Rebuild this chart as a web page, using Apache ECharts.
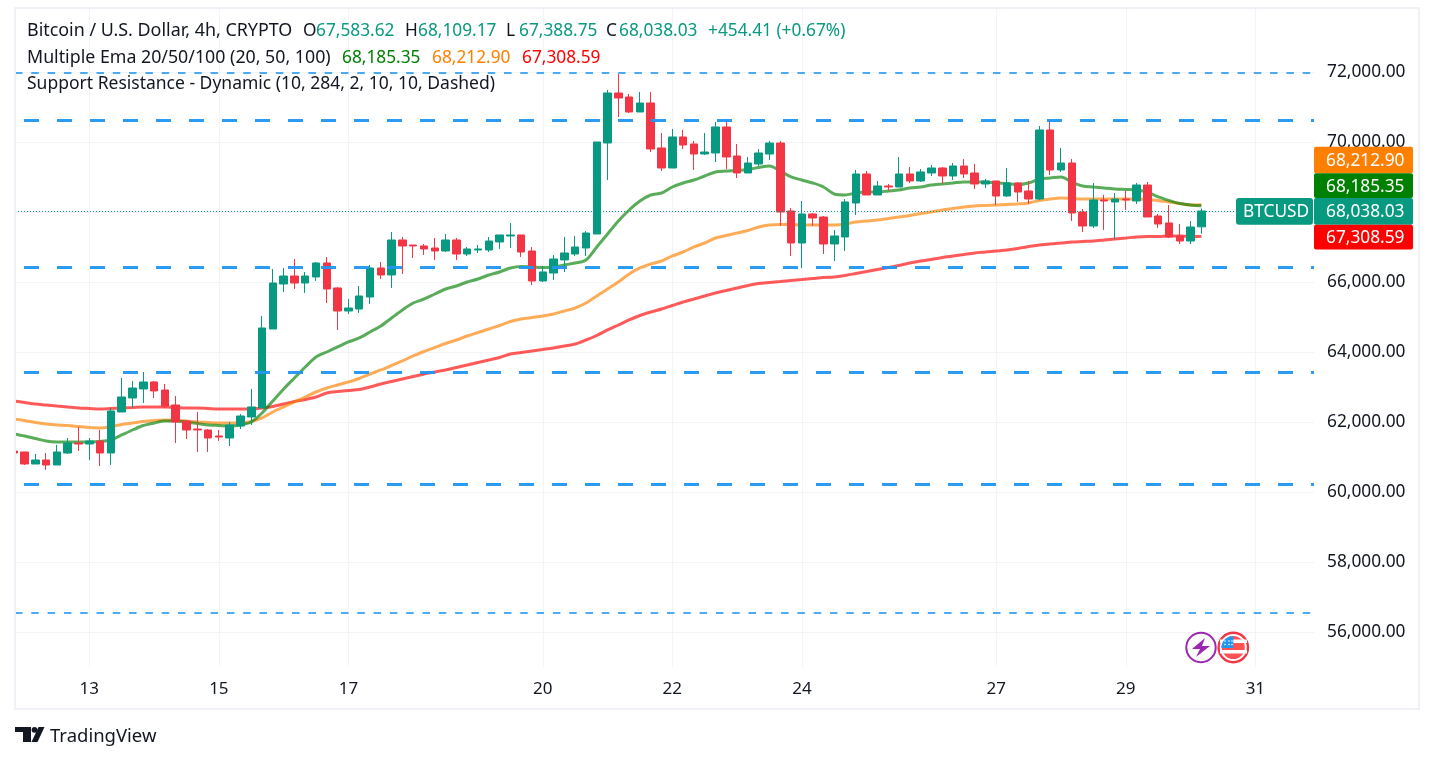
<!DOCTYPE html>
<html>
<head>
<meta charset="utf-8">
<title>BTCUSD 4h</title>
<script src="https://cdn.jsdelivr.net/npm/echarts@6/dist/echarts.min.js"></script>
<style>
  html, body { margin: 0; padding: 0; background: #fff; }
  #main { width: 1434px; height: 762px; }
</style>
</head>
<body>
<div id="main"></div>
<script>
// candles, one per 4h bar, oldest first
var opens = [61180,61152,60809,60923,60780,61123,61409,61380,61466,61123,62295,62695,62952,63152,62923,62495,62038,61809,61780,61609,61552,61895,62152,62409,64666,65952,66180,65980,66152,66552,65838,65180,65238,65580,66409,66209,67209,67066,67038,66980,66895,67209,66809,66923,66923,67152,67323,67352,66895,66038,66266,66638,66809,66980,67380,69980,71409,71295,70866,71123,69838,69266,70152,69952,69666,69695,70438,69609,69123,69380,69666,69980,68038,67123,67952,67866,67095,67295,68266,69095,68495,68752,68723,69095,68895,69123,69266,69038,69323,69123,68809,68895,68466,68838,68609,68380,70352,69209,69409,68009,67609,68352,68295,68380,68323,68780,67895,67695,67323,67180,67583.62];
var closes = [61123,60809,60923,60780,61152,61409,61380,61466,61123,62323,62723,62980,63152,62895,62466,62009,61780,61780,61552,61580,61923,62180,62438,64695,65980,66180,65980,66180,66552,65809,65180,65266,65609,66409,66209,67209,67038,67038,66952,66895,67209,66809,66952,66952,67180,67352,67352,66866,66038,66295,66666,66838,67009,67409,70009,71409,71266,70866,71123,69809,69266,70152,69923,69666,69723,70438,69580,69123,69409,69695,69980,68009,67123,67952,67838,67095,67323,68295,69095,68495,68752,68723,69095,68895,69152,69266,69038,69323,69095,68809,68895,68466,68838,68580,68380,70352,69209,69409,67980,67609,68352,68323,68380,68352,68780,67866,67666,67295,67180,67580,68038.03];
var lows = [61100,60780,60809,60638,60780,61095,61180,60923,60752,60780,62295,62409,62552,62695,62409,61409,61523,61152,61152,61466,61323,61809,61923,62409,64666,65723,65809,65695,66038,65409,64638,65095,65123,65380,66095,65838,66238,66695,66780,66638,66866,66638,66752,66838,66866,66952,66980,66723,65923,66009,66066,66295,66752,66752,67380,68923,70723,70838,70866,69723,69180,69266,69809,69209,69638,69437,69238,68980,69123,69323,69495,67609,66752,66409,67609,66809,66609,66895,67923,68495,68495,68609,68723,68838,68866,69038,68809,68923,68980,68666,68695,68209,68438,68295,68238,68352,69066,69152,67752,67438,67552,67495,67238,68066,68238,67866,67552,67266,67095,67095,67388.75];
var highs = [61200,61152,61095,61123,61352,61552,61866,61552,61780,62409,63266,63180,63438,63180,63095,62752,62038,62295,61809,61780,62009,62238,62952,65037,66380,66409,66666,66295,66580,66723,65866,65523,65895,66495,66580,67438,67295,67066,67095,67266,67380,67266,67009,67066,67295,67352,67695,67352,67009,66466,66780,67295,67323,67466,70009,71495,71952,71380,71438,71438,70266,70380,70352,70038,70266,70580,70638,69952,69580,69809,70038,70038,68123,68323,67980,67895,67495,68380,69209,69180,68895,68809,69580,69295,69238,69352,69295,69409,69523,69380,68952,68895,69266,68866,68895,70466,70638,69838,69523,68095,68838,68495,68552,68609,68838,68866,67952,68209,67666,67752,68109.17];

// moving averages, same bars
var ema20 = [61666,61609,61538,61466,61438,61438,61438,61438,61452,61495,61638,61780,61909,61980,62038,62038,62009,61966,61923,61909,61895,61923,62009,62266,62609,62952,63266,63580,63866,64009,64152,64295,64409,64580,64752,64980,65209,65409,65523,65666,65809,65895,66009,66095,66209,66295,66409,66452,66438,66423,66438,66495,66552,66638,67009,67380,67752,68066,68323,68495,68552,68723,68838,68923,69038,69152,69180,69195,69223,69280,69323,69180,69009,68923,68838,68723,68523,68495,68552,68580,68580,68609,68638,68695,68723,68780,68809,68838,68866,68866,68866,68838,68823,68795,68838,68952,68980,69009,68866,68752,68723,68695,68666,68652,68638,68580,68438,68338,68252,68209,68185.35];
var ema50 = [62095,62052,61995,61952,61923,61909,61880,61852,61838,61880,61938,61980,62023,62052,62066,62052,62038,62009,61995,61980,61980,61980,62023,62123,62295,62438,62580,62723,62866,62980,63066,63152,63252,63380,63495,63623,63752,63895,64023,64138,64252,64352,64466,64566,64666,64766,64880,64952,64995,65037,65095,65180,65266,65409,65609,65809,66009,66238,66409,66523,66609,66752,66866,67009,67123,67266,67338,67409,67480,67580,67638,67652,67652,67638,67638,67638,67638,67666,67723,67752,67780,67823,67866,67909,67966,68009,68066,68109,68152,68180,68195,68209,68223,68238,68266,68338,68380,68409,68395,68380,68380,68380,68380,68380,68380,68366,68338,68295,68252,68209,68212.90];
var ema100 = [62609,62566,62523,62495,62466,62438,62409,62395,62380,62395,62409,62423,62438,62438,62438,62423,62409,62409,62395,62380,62380,62380,62380,62409,62452,62523,62595,62652,62723,62838,62880,62909,62938,63009,63095,63166,63238,63309,63380,63438,63495,63566,63638,63709,63780,63852,63952,63995,64038,64080,64123,64180,64238,64352,64480,64638,64780,64923,65052,65152,65238,65338,65438,65523,65609,65695,65766,65838,65909,65966,65995,66023,66052,66080,66109,66138,66152,66195,66252,66309,66366,66423,66480,66552,66609,66652,66709,66752,66795,66838,66866,66895,66923,66966,67023,67066,67095,67123,67152,67166,67180,67209,67238,67266,67295,67309,67309,67323,67323,67309,67308.59];

// support / resistance levels
var heavyLevels = [70637, 66428, 63438, 60228];
var lightLevels = [71975, 56562];
var lastClose = 68038.03;

// axis ticks
var priceTicks = [56000,58000,60000,62000,64000,66000,68000,70000,72000];
var dayTicks = [13,15,17,20,22,24,27,29,31];
var firstBarDay = 13 - 7 / 6; // bars are 4h apart, first one is 7 bars before the 13th

var green = '#089981', red = '#F23645', ink = '#131722';
var font = '"Noto Sans", sans-serif';
var gridColor = '#f3f4f8';

function money(v) {
    return v.toLocaleString('en-US', { minimumFractionDigits: 2, maximumFractionDigits: 2 });
}

var barDays = opens.map(function (o, i) { return firstBarDay + i / 6; });
var candles = opens.map(function (o, i) { return [barDays[i], o, closes[i], lows[i], highs[i]]; });
function lineData(arr) {
    return arr.map(function (v, i) { return [barDays[i], v]; });
}
function emaSeries(name, arr, color) {
    return {
        name: name, type: 'line', data: lineData(arr), showSymbol: false, symbol: 'none', smooth: 0.3,
        silent: true, z: 3, lineStyle: { width: 3, color: color }, animation: false
    };
}
function levelLines(levels, style) {
    return {
        type: 'line', data: [], z: 2, silent: true, animation: false,
        markLine: {
            silent: true, symbol: 'none', label: { show: false }, animation: false,
            lineStyle: style,
            data: levels.map(function (v) { return { yAxis: v }; })
        }
    };
}

// legend text, every piece at its own x
function txt(x, y, s, color, size) {
    return {
        type: 'text', x: x, y: y + 1, z: 20, silent: true,
        style: { text: s, fill: color || ink, font: (size || 17.3) + 'px ' + font, textVerticalAlign: 'middle' }
    };
}
var header = [
    txt(27, 30, 'Bitcoin / U.S. Dollar, 4h, CRYPTO', ink, 17.9),
    txt(303, 30, 'O'), txt(316, 30, money(67583.62), green),
    txt(405, 30, 'H'), txt(418, 30, money(68109.17), green),
    txt(506, 30, 'L'), txt(519, 30, money(67388.75), green),
    txt(606, 30, 'C'), txt(619, 30, money(68038.03), green),
    txt(708, 30, '+454.41 (+0.67%)', green),
    txt(27, 57, 'Multiple Ema 20/50/100 (20, 50, 100)', ink, 17.8),
    txt(342, 57, money(68185.35), '#008000'),
    txt(432, 57, money(68212.90), '#ff7f00'),
    txt(522, 57, money(67308.59), '#ff0000'),
    txt(27, 83, 'Support Resistance - Dynamic (10, 284, 2, 10, 10, Dashed)', ink, 17.5)
];

// price tags on the scale, they are pushed apart so they sit stacked
function tag(y0, y1, value, color) {
    return [
        { type: 'rect', z: 18, silent: true, shape: { x: 1314, y: y0, width: 99, height: y1 - y0, r: 2 }, style: { fill: color } },
        txt(1326, (y0 + y1) / 2, money(value), '#fff')
    ];
}
var tags = [].concat(
    tag(146.7, 173.3, 68212.90, '#ff7f00'),
    tag(173.3, 198, 68185.35, '#008000'),
    tag(198, 224.8, 68038.03, green),
    tag(224.8, 249.6, 67308.59, '#ff0000'),
    [{ type: 'rect', z: 18, silent: true, shape: { x: 1236, y: 198, width: 77, height: 26.8, r: 3 }, style: { fill: green } },
     txt(1243, 211.4, 'BTCUSD', '#fff')]
);

// flag stars
var stars = [];
[1225, 1229, 1232].forEach(function (x) {
    [641, 644.5].forEach(function (y) {
        stars.push({ type: 'circle', z: 24, silent: true, shape: { cx: x, cy: y, r: 0.8 }, style: { fill: '#fff' } });
    });
});

// frame, logo and the two event badges
var deco = [
    { type: 'rect', z: 10, silent: true, shape: { x: 0, y: 0, width: 14, height: 710 }, style: { fill: '#fff' } },
    { type: 'rect', z: 19, silent: true, shape: { x: 15, y: 8, width: 1404, height: 701 }, style: { fill: 'none', stroke: '#f0f0f6', lineWidth: 2 } },
    { type: 'polygon', z: 20, silent: true, shape: { points: [[15,727],[31,727],[31,742],[23,742],[23,732],[15,732]] }, style: { fill: ink } },
    { type: 'polygon', z: 20, silent: true, shape: { points: [[44.5,727],[37.5,742],[31.5,742],[38.5,727]] }, style: { fill: ink } },
    { type: 'circle', z: 20, silent: true, shape: { cx: 34.5, cy: 729.8, r: 2.9 }, style: { fill: ink } },
    txt(50, 736, 'TradingView', ink, 18.5),
    { type: 'circle', z: 20, silent: true, shape: { cx: 1201, cy: 647.5, r: 14.7 }, style: { fill: '#fff', stroke: '#9c27b0', lineWidth: 2 } },
    { type: 'polygon', z: 21, silent: true, shape: { points: [[1205,638],[1192,649],[1200,649],[1196,657],[1210,646],[1202,646]] }, style: { fill: '#9c27b0' } },
    { type: 'circle', z: 20, silent: true, shape: { cx: 1233.3, cy: 647.5, r: 14.7 }, style: { fill: '#fff', stroke: '#f23645', lineWidth: 2.4 } },
    { type: 'circle', z: 21, silent: true, shape: { cx: 1233.3, cy: 647.5, r: 11.5 }, style: { fill: '#ff5252' } },
    { type: 'rect', z: 22, silent: true, shape: { x: 1220, y: 639.5, width: 27, height: 3.5 }, style: { fill: '#fff' } },
    { type: 'rect', z: 22, silent: true, shape: { x: 1220, y: 650, width: 27, height: 3.5 }, style: { fill: '#fff' } },
    { type: 'sector', z: 23, silent: true, shape: { cx: 1233.3, cy: 648, r: 12, startAngle: Math.PI, endAngle: Math.PI * 1.5 }, style: { fill: '#2196f3' } }
];

var chart = echarts.init(document.getElementById('main'), null, { renderer: 'canvas' });
chart.setOption({
    animation: false,
    backgroundColor: '#fff',
    grid: { left: 15, top: 9, width: 1299, height: 658 },
    xAxis: {
        type: 'value', min: 11.853, max: 31.905, scale: true,
        axisLine: { show: false },
        axisTick: { show: false, customValues: dayTicks },
        axisLabel: {
            customValues: dayTicks, color: ink, fontSize: 17, fontFamily: font, margin: 14, showMinLabel: true, showMaxLabel: true,
            formatter: function (v) { return String(v); }
        },
        splitLine: { show: true, lineStyle: { color: gridColor, width: 1 } }
    },
    yAxis: {
        type: 'value', position: 'right', min: 55008.6, max: 73808.6, scale: true,
        axisLine: { show: false },
        axisTick: { show: false, customValues: priceTicks },
        axisLabel: {
            customValues: priceTicks, color: ink, fontSize: 17.3, fontFamily: font, margin: 13, padding: [2, 0, 0, 0],
            formatter: function (v) { return money(v); }
        },
        splitLine: { show: true, lineStyle: { color: gridColor, width: 1 } }
    },
    series: [
        levelLines(heavyLevels, { color: '#2196f3', width: 3, type: [15, 18], dashOffset: 24, opacity: 0.95 }),
        levelLines(lightLevels, { color: '#2196f3', width: 2, type: [7.5, 8.8], dashOffset: 0, opacity: 0.8 }),
        levelLines([lastClose], { color: green, width: 1, type: [1, 2], dashOffset: 0 }),
        emaSeries('EMA 100', ema100, 'rgba(255,0,0,0.65)'),
        emaSeries('EMA 50', ema50, 'rgba(255,128,0,0.65)'),
        emaSeries('EMA 20', ema20, 'rgba(0,128,0,0.65)'),
        {
            name: 'BTCUSD', type: 'candlestick', data: candles, z: 4, silent: true, barWidth: 8,
            encode: { x: 0, y: [1, 2, 3, 4] },
            itemStyle: { color: green, color0: red, borderColor: green, borderColor0: red, borderWidth: 1 }
        }
    ],
    graphic: { elements: [].concat(deco, stars, tags, header) }
});
</script>
</body>
</html>
